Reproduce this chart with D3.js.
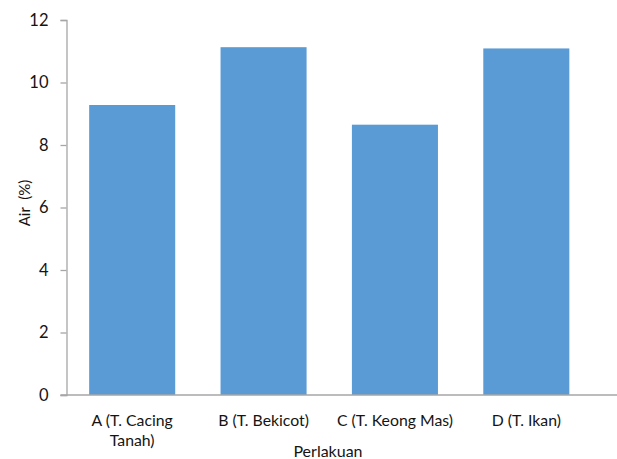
<!DOCTYPE html>
<html>
<head>
<meta charset="utf-8">
<script src="https://cdn.jsdelivr.net/npm/d3@7"></script>
<style>
  html, body { margin: 0; padding: 0; background: #fff; }
  svg { display: block; }
  text { font-family: Lato, "Open Sans", sans-serif; fill: #141414; }
</style>
</head>
<body>
<svg id="chart" width="617" height="459"></svg>
<script>
// Water content (%) per treatment
const categories = ["A (T. Cacing Tanah)", "B (T. Bekicot)", "C (T. Keong Mas)", "D (T. Ikan)"];
const categoryLines = [["A (T. Cacing", "Tanah)"], ["B (T. Bekicot)"], ["C (T. Keong Mas)"], ["D (T. Ikan)"]];
const values = [9.28, 11.13, 8.65, 11.09];
const yTicks = [0, 2, 4, 6, 8, 10, 12];

const svg = d3.select("#chart");
const plotLeft = 66.5, plotTop = 20, plotBottom = 395, bandRight = 592, axisRight = 617;

const x = d3.scaleBand().domain(categories).range([plotLeft, bandRight]).paddingInner(0.345).paddingOuter(0.1725);
const y = d3.scaleLinear().domain([0, 12]).range([plotBottom, plotTop]);

// bars
svg.append("g").selectAll("rect").data(categories).join("rect")
  .attr("x", d => x(d))
  .attr("width", x.bandwidth())
  .attr("y", (d, i) => y(values[i]))
  .attr("height", (d, i) => y(0) - y(values[i]))
  .attr("fill", "#5b9bd5");

// y axis
const yAxis = svg.append("g").attr("transform", `translate(${plotLeft},0)`)
  .call(d3.axisLeft(y).tickValues(yTicks).tickSize(6).tickPadding(12).tickFormat(d3.format("d")));
yAxis.select(".domain").attr("stroke", "#a6a6a6").attr("stroke-width", 1.3);
yAxis.selectAll(".tick line").attr("stroke", "#a6a6a6").attr("stroke-width", 1.3);
yAxis.selectAll(".tick text").attr("font-size", 16.5).style("fill", "#141414")
  .style("font-family", "Lato, 'Open Sans', sans-serif");

// x axis baseline
svg.append("line")
  .attr("x1", plotLeft - 6).attr("x2", axisRight)
  .attr("y1", y(0)).attr("y2", y(0))
  .attr("stroke", "#a6a6a6").attr("stroke-width", 1.6);

// category labels
const labels = svg.append("g").selectAll("text").data(categories).join("text")
  .attr("x", d => x(d) + x.bandwidth() / 2)
  .attr("y", 426)
  .attr("text-anchor", "middle")
  .attr("font-size", 15.8);
labels.each(function(d, i) {
  const t = d3.select(this);
  categoryLines[i].forEach((line, j) => {
    t.append("tspan").attr("x", x(d) + x.bandwidth() / 2).attr("dy", j === 0 ? 0 : 20).text(line);
  });
});

// axis titles
svg.append("text")
  .attr("x", 328).attr("y", 457)
  .attr("text-anchor", "middle").attr("font-size", 16)
  .text("Perlakuan");

svg.append("text")
  .attr("transform", "translate(30,203) rotate(-90)")
  .attr("text-anchor", "middle").attr("font-size", 15)
  .attr("xml:space", "preserve")
  .text("Air  (%)");
</script>
</body>
</html>
